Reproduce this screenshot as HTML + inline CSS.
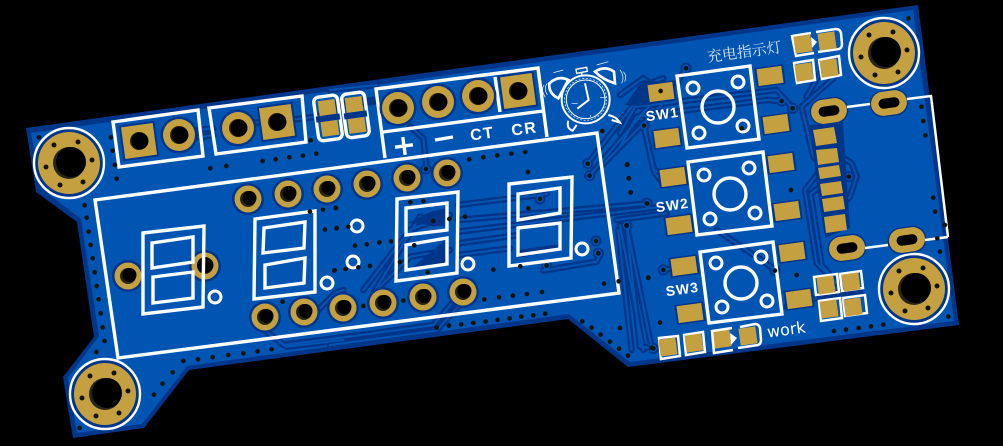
<!DOCTYPE html>
<html><head><meta charset="utf-8"><style>
html,body{margin:0;padding:0;background:#000;width:1003px;height:446px;overflow:hidden}
svg{display:block}
text{font-family:"Liberation Sans","Noto Sans CJK SC",sans-serif;fill:#fff;text-anchor:middle}
.s{fill:none;stroke:#fff;stroke-width:3.400}
.d{fill:none;stroke:#14140f;stroke-width:14;stroke-linecap:round}
.tr{fill:none;stroke-linejoin:round;stroke-linecap:round}
</style></head><body>
<svg width="1003" height="446" viewBox="0 0 1003 446" xmlns="http://www.w3.org/2000/svg">
<defs>
<g id="hole"><circle r="8" fill="#26251c"/><circle cx="1.500" cy="-1" r="7" fill="#000"/></g>
<g id="rp"><circle r="16" fill="#00368a"/><circle r="13.500" fill="#c4a040"/><use href="#hole"/></g>
<g id="rb"><circle r="18.500" fill="#00368a"/><circle r="16" fill="#c4a040"/><circle r="9" fill="#26251c"/><circle cx="1" r="8.500" fill="#000"/></g>
<g id="sq"><g transform="rotate(-7.8)"><rect x="-18" y="-18" width="36" height="36" fill="#00368a"/><rect x="-16" y="-16" width="32" height="32" fill="#c4a040"/></g><circle r="9" fill="#26251c"/><circle cx="1" r="8.500" fill="#000"/></g>
<g id="mh"><circle r="35" fill="#00368a" stroke="#fff" stroke-width="2.400"/><circle r="31" fill="#c4a040"/><circle r="16" fill="#26251c"/><circle cx="2" cy="-1" r="15" fill="#000"/>
<path class="d" style="stroke-width:5" d="M-15-18h0M9-21h0M23-3h0M14 19h0M-9 22h0M-23 4h0"/></g>
<g id="k" transform="rotate(-7.8)"><rect x="-14.500" y="-10" width="29" height="20" fill="#00368a"/><rect x="-12.500" y="-8.500" width="25" height="17" fill="#c4a040"/></g>
<g id="sp" transform="rotate(-7.8)"><rect x="-8.500" y="-8.500" width="17" height="17" fill="#c4a040"/></g>
<g id="sl" transform="rotate(-7.8)"><rect x="-19.500" y="-13.500" width="39" height="27" rx="13.500" fill="#00368a"/><rect x="-18" y="-12" width="36" height="24" rx="12" fill="#c4a040"/><rect x="-10.500" y="-5" width="21" height="10" rx="5" fill="#000"/></g>
<g id="r6"><circle r="6" fill="none" stroke="#fff" stroke-width="3"/></g>
<g id="tk">
<g transform="translate(0,80) scale(.3333)"><path d="M596 150L640 145M596 172L640 165M700 130L830 125M830 125L1030 100M820 770L860 800L1030 780M800 755L850 795L1030 772M955 690L1005 640L1030 630"/></g>
<g transform="translate(330,50) scale(.3333)"><path d="M0 120L140 105M240 230L280 265L290 355M385 465L650 432M385 510L952 461M385 545L1000 470M385 580L560 556M385 615L540 595M100 720L240 540L360 495M130 730L270 500L310 513M650 647L640 662L800 635L812 612M773 341L960 100L1000 85M779 377L990 130M817 345L1000 160M890 526L965 893M870 526L940 900M940 226L975 370L1000 400M0 868L310 825L400 720M0 885L320 842L410 740M140 720L240 620L360 600"/></g>
<g transform="translate(620,0) scale(.3333)"><path d="M0 440L50 350L440 300L485 303M0 400L45 320L470 270L518 325M0 285L70 235L120 270M72 377L100 510L150 530M640 235L545 320L580 470L600 490M600 220L560 290M610 500L555 570L590 790L640 840M625 540L572 582L605 795L650 850M650 460L695 490L710 530L690 590L660 620M20 680L60 1040L100 1045M-5 690L35 1050M-10 620L80 610M-10 660L140 640M290 690L470 812M198 205L170 250M130 810L190 800M500 920L640 880"/></g>
</g>
<g id="vv">
<g transform="translate(330,50) scale(.3333)"><path d="M288 357h0M773 341h0M779 377h0M650 647h0M798 573h0M805 610h0M952 461h0M890 526h0M630 447h0M310 513h0"/></g>
<g transform="translate(620,0) scale(.3333)"><path d="M198 205h0M485 303h0M518 325h0M72 377h0M80 610h0M20 677h0M130 810h0M100 1045h0M687 530h0M465 812h0"/></g>
</g>
</defs>

<polygon points="26,128 918,5 959,325 628,367 568,319 189,370 144,428 73,438 63,377 94,337 77,222 36,192" fill="#00368a"/>
<polygon points="31,133 913,10 954,321 630,362 569,314 187,366 142,424 77,433 68,378 99,336 81,219 41,188" fill="#0055b2"/>

<use href="#tk" class="tr" stroke="#00368a" stroke-width="20"/>
<use href="#vv" class="tr" stroke="#00368a" stroke-width="34"/>
<use href="#tk" class="tr" stroke="#0055b2" stroke-width="6"/>
<use href="#vv" class="tr" stroke="#0055b2" stroke-width="22"/>

<!-- dark copper zones -->
<polygon points="323,103 380,96 380,104 323,112" fill="#00368a"/>
<polygon points="413,267 445,240 446,264" fill="#00368a"/>
<polygon points="408,223 430,212 447,208 444,226" fill="#00368a"/>
<polygon points="820,292 862,286 864,296 822,301" fill="#00368a"/>
<polygon points="625,105 643,80 665,82 677,100 640,106" fill="#00368a"/>
<polygon points="518,258 560,250 560,244 518,250" fill="#00368a"/>
<polygon points="810,125 843,122 850,228 825,238 818,195" fill="#00368a"/>

<!-- mounting holes -->
<use href="#mh" x="69" y="163"/><use href="#mh" x="105" y="394"/><use href="#mh" x="884" y="53"/><use href="#mh" x="914" y="289"/>

<!-- header boxes -->
<polygon class="s" points="113,122 198,110 203,156 119,167"/>
<polygon class="s" points="209,108 302,96 306,142 216,154"/>
<use href="#sq" x="139" y="141"/><use href="#rb" x="179" y="135"/><use href="#rb" x="238" y="128"/><use href="#sq" x="277" y="122"/>

<g transform="translate(328,118) rotate(-7.8)"><rect x="-12" y="-22" width="24" height="44" rx="5" class="s"/><rect x="-8" y="-18" width="17" height="15" fill="#c4a040"/><rect x="-8" y="3" width="17" height="15" fill="#c4a040"/><rect x="-12" y="-3" width="24" height="6" fill="#00368a"/></g>
<g transform="translate(355,115) rotate(-7.8)"><rect x="-11" y="-22" width="23" height="44" rx="5" class="s"/><rect x="-8" y="-18" width="17" height="15" fill="#c4a040"/><rect x="-8" y="3" width="17" height="15" fill="#c4a040"/><rect x="-11" y="-3" width="23" height="6" fill="#00368a"/></g>

<path class="s" d="M385 158L376 89L538 68L547 137M383 132L543 111M495 77L500 112"/>
<use href="#rb" x="398" y="108"/><use href="#rb" x="438" y="102"/><use href="#rb" x="478" y="96"/><use href="#sq" x="518" y="91"/>
<path d="M395 146h18M404 137v18" stroke="#fff" stroke-width="3.400" fill="none" transform="rotate(-7.8 404 146)"/>
<path d="M435 140l18-3" stroke="#fff" stroke-width="3.400"/>
<text font-size="16" font-weight="bold" letter-spacing="1.500" transform="translate(483,139) rotate(-7.8)">CT</text>
<text font-size="16" font-weight="bold" letter-spacing="1.500" transform="translate(525,134) rotate(-7.8)">CR</text>

<!-- clock -->
<g transform="translate(540,60) scale(.3333)" fill="none" stroke="#fff">
<circle cx="137" cy="118" r="72" stroke-width="6"/><circle cx="137" cy="118" r="58" stroke-width="3"/><circle cx="137" cy="118" r="63" stroke-width="2" stroke-dasharray="6 5"/>
<path d="M135 70L146 120L112 146" stroke-width="6"/>
<path d="M95 130h18M180 113h18M152 165v6" stroke-width="2"/>
<path d="M28 70Q55 45 85 60L55 115Q25 100 28 70Z" stroke-width="8"/>
<path d="M165 35Q195 15 222 35L225 70Q190 60 165 35Z" stroke-width="8"/>
<path d="M108 28L140 22L142 34L110 40Z" stroke-width="4"/>
<path d="M125 38v10" stroke-width="5"/>
<path d="M85 182Q78 205 98 212L110 195M205 165Q230 170 240 188L215 180" stroke-width="6"/>
<path d="M22 70Q10 85 22 105M12 75Q2 90 16 112M240 30Q255 50 245 70M250 35Q262 48 254 65M40 38L70 30M170 15L205 5" stroke-width="2"/>
</g>

<!-- display -->
<polygon class="s" points="95,200 597,133 619,293 118,358"/>
<use href="#rp" x="248" y="199"/><use href="#rp" x="288" y="194"/><use href="#rp" x="327" y="189"/><use href="#rp" x="367" y="184"/><use href="#rp" x="407" y="178"/><use href="#rp" x="447" y="173"/>
<use href="#rp" x="265" y="317"/><use href="#rp" x="304" y="312"/><use href="#rp" x="343" y="308"/><use href="#rp" x="383" y="303"/><use href="#rp" x="423" y="297"/><use href="#rp" x="463" y="292"/>
<use href="#rp" x="128" y="276"/><use href="#rp" x="205" y="266"/><circle cx="205" cy="265" r="8" fill="#000"/>
<g class="s">
<polygon points="143,233 204,226 203,307 143,314"/><polygon points="152,243 193,237 193,262 152,268"/><polygon points="153,277 193,272 193,298 153,303"/>
<polygon points="255,219 315,211 315,292 254,299"/><polygon points="264,228 305,222 304,248 263,253"/><polygon points="265,265 305,258 304,283 265,288"/>
<polygon points="397,199 458,192 457,273 396,281"/><polygon points="406,208 447,203 447,230 406,235"/><polygon points="406,245 447,238 447,264 406,270"/>
<polygon points="509,184 572,177 571,258 509,266"/><polygon points="518,194 560,188 560,213 518,220"/><polygon points="518,228 560,223 560,249 518,255"/>
</g>
<use href="#r6" x="215" y="297"/><use href="#r6" x="327" y="283"/><use href="#r6" x="357" y="226"/><use href="#r6" x="353" y="262"/><use href="#r6" x="468" y="264"/><use href="#r6" x="582" y="249"/>

<!-- switches -->
<g class="s">
<polygon points="677,76 750,66 759,139 687,148"/><polygon points="688,162 763,152 772,226 697,235"/><polygon points="700,252 773,242 782,314 709,323"/>
<circle cx="718" cy="107" r="16"/><circle cx="730" cy="194" r="16"/><circle cx="741" cy="283" r="16"/>
</g>
<g>
<use href="#r6" x="693" y="88"/><use href="#r6" x="738" y="82"/><use href="#r6" x="699" y="133"/><use href="#r6" x="743" y="126"/>
<use href="#r6" x="704" y="175"/><use href="#r6" x="749" y="168"/><use href="#r6" x="710" y="219"/><use href="#r6" x="755" y="213"/>
<use href="#r6" x="716" y="263"/><use href="#r6" x="761" y="257"/><use href="#r6" x="722" y="307"/><use href="#r6" x="767" y="301"/>
<use href="#k" x="661" y="92"/><use href="#k" x="667" y="138"/><use href="#k" x="770" y="76"/><use href="#k" x="776" y="124"/>
<use href="#k" x="673" y="177"/><use href="#k" x="679" y="225"/><use href="#k" x="781" y="163"/><use href="#k" x="787" y="211"/>
<use href="#k" x="684" y="266"/><use href="#k" x="690" y="313"/><use href="#k" x="792" y="252"/><use href="#k" x="799" y="299"/>
</g>
<g font-size="14" font-weight="bold" letter-spacing="1">
<text transform="translate(663,119) rotate(-7.800)">SW1</text>
<text transform="translate(673,210) rotate(-7.800)">SW2</text>
<text transform="translate(683,294) rotate(-7.800)">SW3</text>
</g>
<text font-size="15" style="fill:#dce8f8;font-family:'Noto Serif CJK SC','Liberation Sans',serif" transform="translate(745,57) rotate(-7.800)">充电指示灯</text>

<!-- top LED -->
<path class="s" style="stroke-width:2.500" d="M811 33L792 36L796 56L814 53M816 32L836 29Q840 29 841 33L842 44Q842 48 839 49L818 52"/>
<use href="#sp" x="803" y="44"/><use href="#sp" x="827" y="41"/>
<polygon points="811,37 817,42 812,48" fill="#fff"/>
<g class="s" style="stroke-width:2.500"><polygon points="794,63 813,60 815,80 797,83"/><polygon points="819,60 839,56 841,75 822,79"/></g>
<use href="#sp" x="804" y="72"/><use href="#sp" x="829" y="68"/>

<!-- USB -->
<g fill="#c4a040">
<polygon points="813,130 834,127 837,143 816,146"/>
<polygon points="816,150 837,148 839,162 818,165"/>
<polygon points="818,168 839,165 841,176 820,179"/>
<polygon points="820,184 841,181 843,193 822,196"/>
<polygon points="822,199 843,196 845,209 824,212"/>
<polygon points="824,217 845,214 847,230 826,233"/>
</g>
<use href="#sl" x="829" y="111"/><use href="#sl" x="847" y="248"/><use href="#sl" x="889" y="103"/><use href="#sl" x="907" y="240"/>
<path d="M847 107L870 104M907 99L931 96L948 237M865 248L888 245M925 240L948 237" fill="none" stroke="#fff" stroke-width="2.500"/>

<!-- bottom pads -->
<rect x="817" y="292" width="46" height="6" transform="rotate(-7.800 840 295)" fill="#00368a"/>
<g class="s" style="stroke-width:2.500">
<polygon points="814,277 837,274 839,292 816,295"/><polygon points="840,274 861,271 863,288 842,291"/>
<polygon points="819,301 840,298 842,318 821,321"/><polygon points="843,298 865,295 867,313 845,316"/>
<polygon points="659,338 678,336 680,356 661,359"/><polygon points="684,335 703,332 705,352 686,355"/>
</g>
<use href="#sp" x="826" y="285"/><use href="#sp" x="851" y="282"/><use href="#sp" x="829" y="309"/><use href="#sp" x="853" y="307"/>
<use href="#sp" x="668" y="347"/><use href="#sp" x="694" y="343"/><use href="#sp" x="722" y="339"/><use href="#sp" x="748" y="336"/>
<path class="s" style="stroke-width:2.500" d="M732 328L712 331L714 353L733 350M740 327L755 324Q759 324 760 328L761 340Q761 344 758 345L738 348"/>
<polygon points="730,333 737,338 731,345" fill="#fff"/>
<text font-size="16" style="font-family:'DejaVu Sans',sans-serif" transform="translate(787,335) rotate(-7.800)">work</text>

<!-- vias -->
<g transform="translate(0,80) scale(.3333)"><path class="d" d="M117 172h0M333 172h0M338 212h0M345 255h0M350 296h0M254 376h0M260 413h0M266 455h0M272 495h0M278 535h0M284 577h0M290 618h0M296 658h0M302 700h0M308 742h0M314 783h0M289 816h0M239 1044h0M462 944h0M488 911h0M518 877h0M550 843h0M594 838h0M638 832h0M685 825h0M730 820h0M773 814h0M815 808h0M631 265h0M679 258h0M788 243h0M827 238h0M868 232h0M909 227h0M949 221h0M932 181h0M930 395h0M969 389h0M1007 384h0M975 449h0M1010 445h0M1003 572h0M848 665h0"/></g>
<g transform="translate(330,50) scale(.3333)"><path class="d" d="M418 328h0M460 322h0M502 316h0M544 311h0M586 306h0M594 366h0M18 474h0M20 534h0M55 530h0M75 587h0M110 583h0M148 577h0M183 574h0M14 661h0M47 657h0M85 652h0M120 648h0M241 457h0M280 453h0M405 500h0M358 507h0M310 513h0M253 586h0M210 636h0M293 667h0M490 659h0M571 649h0M650 647h0M630 447h0M595 475h0M798 573h0M805 610h0M773 341h0M779 377h0M817 243h0M891 345h0M896 385h0M902 427h0M952 461h0M890 526h0M955 684h0M822 701h0M866 694h0M636 726h0M591 732h0M549 737h0M507 742h0M463 748h0M220 752h0M100 768h0M320 833h0M357 827h0M394 823h0M430 819h0M467 815h0M503 810h0M539 805h0M574 800h0M610 796h0M646 791h0M757 814h0M785 833h0M812 854h0M840 875h0M867 896h0M894 917h0M870 834h0M965 893h0M288 357h0"/></g>
<g transform="translate(620,0) scale(.3333)"><path class="d" d="M122 273h0M198 205h0M485 303h0M518 325h0M72 377h0M365 385h0M22 493h0M27 535h0M32 578h0M80 610h0M20 677h0M513 570h0M687 530h0M465 812h0M130 810h0M85 833h0M530 825h0M120 968h0M100 1045h0M642 993h0M678 989h0M716 984h0M753 979h0M790 974h0M985 950h0M960 755h0M952 715h0M975 675h0M945 635h0M940 593h0M905 320h0M910 363h0M916 406h0M865 55h0"/></g>
</svg>
</body></html>
